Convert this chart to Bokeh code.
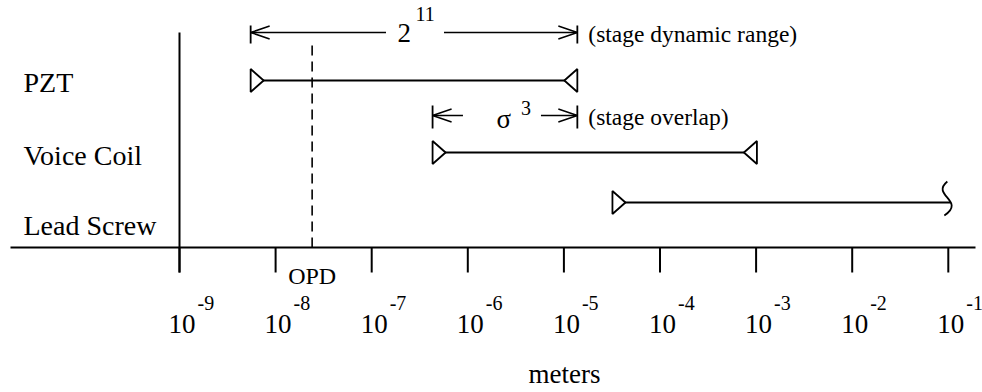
import math
from bokeh.plotting import figure
from bokeh.models import Range1d
from bokeh.core.properties import value
from bokeh.embed import file_html
from bokeh.resources import INLINE

# ---------------- data ----------------
stages = ["PZT", "Voice Coil", "Lead Screw"]
stage_min_m = [5.5e-9, 4.3e-7, 3.2e-5]      # lower limit of each stage (meters)
stage_max_m = [1.38e-5, 1.02e-3, 0.105]     # upper limit of each stage (meters)
stage_open_end = [False, False, True]       # Lead screw range continues (broken end)
tick_m = [1e-9, 1e-8, 1e-7, 1e-6, 1e-5, 1e-4, 1e-3, 1e-2, 1e-1]
tick_base = ["10"] * 9
tick_exp = ["-9", "-8", "-7", "-6", "-5", "-4", "-3", "-2", "-1"]
opd_m = 2.4e-8
opd_label = "OPD"
x_label = "meters"
dyn_range_base, dyn_range_exp = "2", "11"   # stage dynamic range 2^11
overlap_base, overlap_exp = "\u03c3", "3"   # stage overlap sigma^3

# ---------------- layout / style ----------------
W, H = 982, 392
PPD = 96.1                       # screen pixels per decade
X_LEFT_PX = 179                  # screen x of the first tick
X0 = tick_m[0] * 10 ** (-X_LEFT_PX / PPD)
X1 = tick_m[0] * 10 ** ((W - X_LEFT_PX) / PPD)
AXIS_PX = 247                    # screen y of the horizontal axis line
FONT = value("Liberation Serif")
LW = 1.8
TDY = 10                         # baseline correction for text glyphs

row_y = [167, 95, 45]
label_y = [155, 82, 12]


def sh(v, px):
    """shift a log-scale value by px screen pixels"""
    return v * 10 ** (px / PPD)


p = figure(width=W, height=H, x_axis_type="log", x_axis_location=None, y_axis_location=None,
           x_range=Range1d(X0, X1), y_range=Range1d(AXIS_PX - H, AXIS_PX),
           output_backend="svg", toolbar_location=None,
           min_border=0, min_border_left=0, min_border_right=0,
           min_border_top=0, min_border_bottom=0)
p.grid.visible = False
p.outline_line_color = None
p.background_fill_color = "white"
p.border_fill_color = "white"


def txt(x, y, t, size, align="left"):
    p.text(x=x, y=[v + TDY for v in y], text=t, text_font=FONT, text_font_size=size,
           text_align=align, text_baseline="alphabetic", text_color="black")


# horizontal axis line and ticks
p.segment(x0=[sh(X0, 10)], y0=[0], x1=[sh(X1, -7)], y1=[0], line_color="black", line_width=2)
p.segment(x0=tick_m, y0=[0] * len(tick_m), x1=tick_m, y1=[-25] * len(tick_m),
          line_color="black", line_width=2)
txt([sh(t, 16) for t in tick_m], [-86] * len(tick_m), tick_base, "27px", "right")
txt([sh(t, 18) for t in tick_m], [-65] * len(tick_m), tick_exp, "20px", "left")
txt([sh(tick_m[0], 385)], [-136], [x_label], "27px", "center")

# vertical axis line at 1e-9
p.segment(x0=[tick_m[0]], y0=[-25], x1=[tick_m[0]], y1=[215], line_color="black", line_width=2)

# OPD dashed line
p.segment(x0=[opd_m], y0=[0], x1=[opd_m], y1=[204], line_color="black",
          line_width=1.6, line_dash="10 6")
txt([opd_m], [-38], [opd_label], "24px", "center")

# stage range lines
p.segment(x0=stage_min_m, y0=row_y, x1=stage_max_m, y1=row_y, line_color="black", line_width=LW)

# triangle end markers
TRI_D, TRI_H = 13, 11.5
xs, ys = [], []
for lo, hi, y, open_end in zip(stage_min_m, stage_max_m, row_y, stage_open_end):
    xs.append([lo, lo, sh(lo, TRI_D)])
    ys.append([y + TRI_H, y - TRI_H, y])
    if not open_end:
        xs.append([hi, hi, sh(hi, -TRI_D)])
        ys.append([y + TRI_H, y - TRI_H, y])
p.patches(xs=xs, ys=ys, fill_color="white", line_color="black", line_width=LW)

# broken (open) end squiggle
for hi, y, open_end in zip(stage_max_m, row_y, stage_open_end):
    if open_end:
        p.bezier(x0=[sh(hi, -3)], y0=[y + 21], x1=[sh(hi, -6)], y1=[y - 13],
                 cx0=[sh(hi, -20)], cy0=[y + 7], cx1=[sh(hi, 16)], cy1=[y + 2],
                 line_color="black", line_width=LW)

# stage labels
txt([sh(tick_m[0], -156)] * 3, label_y, stages, "28px", "left")


# dimension annotations
def dimension(xa, xb, y, gap_l, gap_r, bar_up, bar_dn, base, exp, base_dx, exp_dx,
              base_y, exp_y, note):
    c = math.sqrt(xa * xb)
    p.segment(x0=[xa, xb], y0=[y + bar_up] * 2, x1=[xa, xb], y1=[y - bar_dn] * 2,
              line_color="black", line_width=LW)
    p.segment(x0=[xa, sh(c, gap_r)], y0=[y, y], x1=[sh(c, -gap_l), xb], y1=[y, y],
              line_color="black", line_width=1.5)
    AL, AW = 19, 6.5
    p.multi_line(xs=[[sh(xa, AL), xa, sh(xa, AL)], [sh(xb, -AL), xb, sh(xb, -AL)]],
                 ys=[[y + AW, y, y - AW], [y + AW, y, y - AW]],
                 line_color="black", line_width=1.5)
    txt([sh(c, base_dx)], [base_y], [base], "27px", "right")
    txt([sh(c, exp_dx)], [exp_y], [exp], "20px", "left")
    txt([sh(xb, 11)], [y - 11], [note], "23.5px", "left")


dimension(stage_min_m[0], stage_max_m[0], 215, 28, 30, 7, 11,
          dyn_range_base, dyn_range_exp, -3, 1.5, 205, 224, "(stage dynamic range)")
dimension(stage_min_m[1], stage_max_m[0], 132, 42, 36, 10, 13,
          overlap_base, overlap_exp, 6, 16, 119, 130, "(stage overlap)")

open("out.html", "w").write(file_html(p, INLINE))
